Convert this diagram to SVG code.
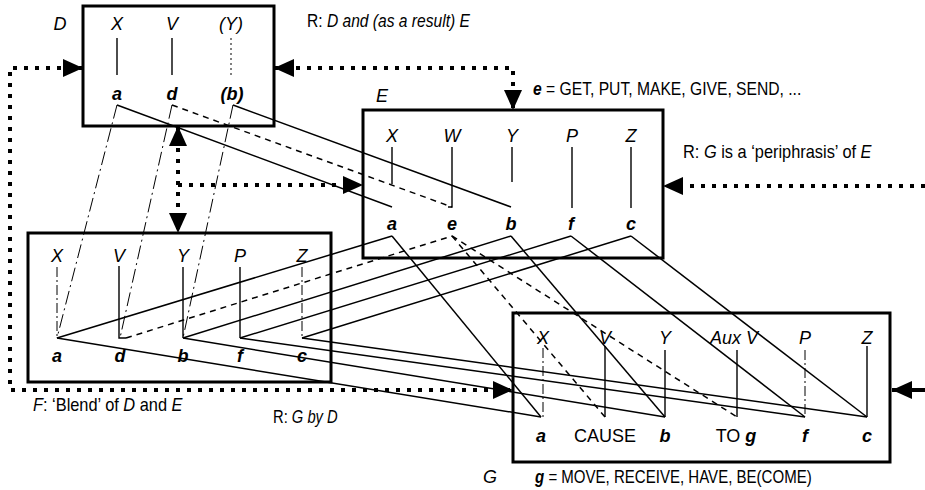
<svg xmlns="http://www.w3.org/2000/svg" width="925" height="490" viewBox="0 0 925 490">
<style>
.box{fill:none;stroke:#000;stroke-width:3}
.v{stroke:#000;stroke-width:1.4;fill:none}
.vdd{stroke-dasharray:10 3 2 3;stroke-width:1}
.vdot{stroke-dasharray:2 3;stroke-width:1}
.c{stroke:#000;stroke-width:1.5;fill:none}
.dash{stroke-dasharray:6 5}
.dd{stroke-dasharray:14 4 2 4;stroke-width:1}
.rel{stroke:#000;stroke-width:4;stroke-dasharray:4 7;fill:none}
text{font-family:"Liberation Sans",Arial,sans-serif;font-size:18px;fill:#000}
.i{font-style:italic}
.b{font-weight:bold}
.m{text-anchor:middle}
</style>
<defs>
<marker id="ah" viewBox="0 0 20 18" refX="20" refY="9" markerWidth="20" markerHeight="18" markerUnits="userSpaceOnUse" orient="auto-start-reverse">
<path d="M0,0 L20,9 L0,18 z" fill="#000"/>
</marker>
</defs>

<g id="D">
<rect class="box" x="83" y="6" width="191" height="120"/>
<text class="i m" x="60" y="30">D</text>
<text class="i m" x="117" y="30">X</text>
<text class="i m" x="172" y="30">V</text>
<text class="i m" x="231" y="30">(Y)</text>
<line class="v" x1="117" y1="38" x2="117" y2="75"/>
<line class="v" x1="172" y1="38" x2="172" y2="75"/>
<line class="v vdot" x1="231" y1="38" x2="231" y2="75"/>
<text class="i b m" x="117" y="100">a</text>
<text class="i b m" x="172" y="100">d</text>
<text class="i b m" x="232" y="100">(b)</text>
</g>

<g id="E">
<rect class="box" x="363" y="110" width="300" height="148"/>
<text class="i m" x="382" y="102">E</text>
<text class="i m" x="392" y="142">X</text>
<text class="i m" x="452" y="142">W</text>
<text class="i m" x="512" y="142">Y</text>
<text class="i m" x="572" y="142">P</text>
<text class="i m" x="631" y="142">Z</text>
<line class="v" x1="392" y1="147" x2="392" y2="184"/>
<path class="v" d="M452,147 V207 H448"/>
<line class="v" x1="512" y1="147" x2="512" y2="182"/>
<line class="v" x1="572" y1="147" x2="572" y2="208"/>
<line class="v" x1="631" y1="147" x2="631" y2="208"/>
<text class="i b m" x="392" y="230">a</text>
<text class="i b m" x="452" y="230">e</text>
<text class="i b m" x="511" y="230">b</text>
<text class="i b m" x="571" y="230">f</text>
<text class="i b m" x="631" y="230">c</text>
</g>

<g id="F">
<rect class="box" x="28" y="233" width="303" height="149"/>
<text class="i m" x="57" y="262">X</text>
<text class="i m" x="119" y="262">V</text>
<text class="i m" x="183" y="262">Y</text>
<text class="i m" x="240" y="262">P</text>
<text class="i m" x="302" y="262">Z</text>
<line class="v vdd" x1="57" y1="267" x2="57" y2="338"/>
<path class="v" d="M119,266 V338 H126"/>
<line class="v" x1="183" y1="267" x2="183" y2="338"/>
<line class="v" x1="240" y1="267" x2="240" y2="338"/>
<line class="v vdd" x1="302" y1="267" x2="302" y2="338"/>
<text class="i b m" x="57" y="362">a</text>
<text class="i b m" x="120" y="362">d</text>
<text class="i b m" x="183" y="362">b</text>
<text class="i b m" x="240" y="362">f</text>
<text class="i b m" x="302" y="362">c</text>
</g>

<g id="G">
<rect class="box" x="513" y="313" width="377" height="149"/>
<text class="i m" x="543" y="344">X</text>
<text class="i m" x="605" y="344">V</text>
<text class="i m" x="665" y="344">Y</text>
<text class="i m" x="734" y="344">Aux V</text>
<text class="i m" x="805" y="344">P</text>
<text class="i m" x="867" y="344">Z</text>
<line class="v vdd" x1="543" y1="348" x2="543" y2="417"/>
<line class="v" x1="605" y1="346" x2="605" y2="417"/>
<line class="v" x1="665" y1="350" x2="665" y2="417"/>
<line class="v" x1="737" y1="350" x2="737" y2="417"/>
<line class="v vdd" x1="805" y1="350" x2="805" y2="417"/>
<line class="v" x1="867" y1="346" x2="867" y2="417"/>
<text class="i b m" x="541" y="442">a</text>
<text class="m" x="605" y="442">CAUSE</text>
<text class="i b m" x="665" y="442">b</text>
<text class="m" x="736" y="442">TO <tspan class="i b">g</tspan></text>
<text class="i b m" x="805" y="442">f</text>
<text class="i b m" x="867" y="442">c</text>
<text class="i" x="483" y="483">G</text>
<text transform="translate(535,483) scale(0.836,1)"><tspan class="i b">g</tspan> = MOVE, RECEIVE, HAVE, BE(COME)</text>
</g>

<g id="connectors">
<line class="c" x1="117" y1="105" x2="392" y2="207"/>
<line class="c dash" x1="172" y1="105" x2="452" y2="207"/>
<line class="c" x1="233" y1="105" x2="511" y2="207"/>
<line class="c dd" x1="117" y1="105" x2="57" y2="338"/>
<line class="c dd" x1="172" y1="105" x2="120" y2="338"/>
<line class="c dd" x1="233" y1="105" x2="183" y2="338"/>
<line class="c" x1="57" y1="338" x2="392" y2="236"/>
<line class="c dash" x1="126" y1="338" x2="452" y2="236"/>
<line class="c" x1="183" y1="338" x2="511" y2="236"/>
<line class="c" x1="240" y1="338" x2="571" y2="236"/>
<line class="c" x1="302" y1="338" x2="631" y2="236"/>
<line class="c" x1="392" y1="236" x2="541" y2="417"/>
<line class="c dash" x1="452" y1="236" x2="605" y2="417"/>
<line class="c dash" x1="452" y1="236" x2="737" y2="417"/>
<line class="c" x1="511" y1="236" x2="665" y2="417"/>
<line class="c" x1="571" y1="236" x2="805" y2="417"/>
<line class="c" x1="631" y1="236" x2="867" y2="417"/>
<line class="c" x1="57" y1="338" x2="541" y2="417"/>
<line class="c" x1="183" y1="338" x2="665" y2="417"/>
<line class="c" x1="240" y1="338" x2="805" y2="417"/>
<line class="c" x1="302" y1="338" x2="867" y2="417"/>
</g>

<g id="relations">
<path class="rel" d="M83,68 H10 V390 H513" marker-start="url(#ah)" marker-end="url(#ah)"/>
<path class="rel" d="M274,68 H513 V110" marker-start="url(#ah)" marker-end="url(#ah)"/>
<path class="rel" d="M925,186 H663" marker-end="url(#ah)"/>
<path class="rel" d="M178,126 V233" marker-start="url(#ah)" marker-end="url(#ah)"/>
<path class="rel" d="M178,185 H363" marker-end="url(#ah)"/>
<path class="rel" d="M925,390 H892" style="stroke-dasharray:none" marker-end="url(#ah)"/>
<text transform="translate(307,27) scale(0.867,1)">R: <tspan class="i">D and (as a result) E</tspan></text>
<text transform="translate(533,95) scale(0.87,1)"><tspan class="i b">e</tspan> = GET, PUT, MAKE, GIVE, SEND, ...</text>
<text transform="translate(683,158) scale(0.91,1)">R: <tspan class="i">G</tspan> is a ‘periphrasis’ of <tspan class="i">E</tspan></text>
<text transform="translate(33,411) scale(0.91,1)"><tspan class="i">F</tspan>: ‘Blend’ of <tspan class="i">D</tspan> and <tspan class="i">E</tspan></text>
<text transform="translate(273,423) scale(0.82,1)">R: <tspan class="i">G by D</tspan></text>
</g>
</svg>
